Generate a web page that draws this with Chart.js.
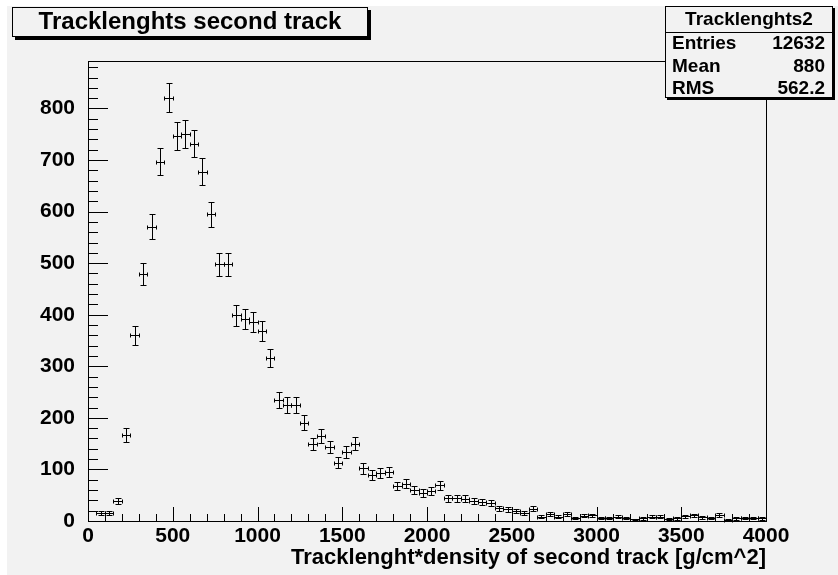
<!DOCTYPE html>
<html>
<head>
<meta charset="UTF-8">
<title>Tracklenghts second track</title>
<script src="https://cdn.jsdelivr.net/npm/chart.js"></script>
<style>
  html, body { margin: 0; padding: 0; background: #ffffff; }
  #wrap { width: 838px; height: 575px; position: relative; }
</style>
</head>
<body>
<div id="wrap"><canvas id="grafico"></canvas></div>
<script>
// histogram Tracklenghts2: 80 bins of 50 between 0 and 4000
const binLow = 0;
const binWidth = 50;
const counts = [
  0, 15, 15, 39, 167, 360, 479, 571, 697, 821,
  747, 751, 732, 677, 595, 498, 498, 399, 392, 386,
  368, 316, 235, 225, 225, 191, 149, 165, 144, 113,
  133, 150, 102, 89, 93, 95, 68, 72, 60, 54,
  58, 69, 44, 44, 43, 39, 37, 35, 25, 23,
  19, 15, 24, 8, 13, 8, 14, 6, 10, 11,
  6, 6, 8, 6, 3, 5, 8, 8, 4, 5,
  9, 11, 7, 6, 12, 2, 5, 6, 6, 5
];
const xTicks = [0, 500, 1000, 1500, 2000, 2500, 3000, 3500, 4000];
const yTicks = [0, 100, 200, 300, 400, 500, 600, 700, 800];

const titulo = 'Tracklenghts second track';
const tituloX = 'Tracklenght*density of second track [g/cm^2]';
const statsNome = 'Tracklenghts2';
const statsLinhas = [['Entries', '12632'], ['Mean', '880'], ['RMS', '562.2']];

const pontos = counts.map(function (c, i) {
  return { x: binLow + binWidth * (i + 0.5), y: c };
});

const fonte = '"Liberation Sans", Arial, sans-serif';
const cinza = '#f2f2f2';

// desenha barras de erro, marcas dos eixos, moldura e caixas de texto
const rootPlugin = {
  id: 'rootPlugin',
  beforeDraw(chart) {
    const ctx = chart.ctx;
    ctx.save();
    ctx.fillStyle = '#ffffff';
    ctx.fillRect(0, 0, chart.width, chart.height);
    ctx.fillStyle = cinza;
    ctx.fillRect(7, 6, chart.width - 7, chart.height - 6);
    ctx.restore();
  },
  afterDatasetsDraw(chart) {
    const ctx = chart.ctx;
    const xs = chart.scales.x;
    const ys = chart.scales.y;
    const a = chart.chartArea;
    ctx.save();
    ctx.strokeStyle = '#000';
    ctx.lineWidth = 1;

    // barras de erro
    pontos.forEach(function (p) {
      if (p.y <= 0) return;
      const e = Math.sqrt(p.y);
      const px = Math.round(xs.getPixelForValue(p.x)) + 0.5;
      const py = Math.round(ys.getPixelForValue(p.y)) + 0.5;
      const x1 = Math.round(xs.getPixelForValue(p.x - binWidth / 2)) + 0.5;
      const x2 = Math.round(xs.getPixelForValue(p.x + binWidth / 2)) + 0.5;
      const y1 = Math.round(ys.getPixelForValue(p.y + e)) + 0.5;
      const y2 = Math.round(Math.min(ys.getPixelForValue(p.y - e), a.bottom)) + 0.5;
      ctx.beginPath();
      ctx.moveTo(x1, py); ctx.lineTo(x2, py);
      ctx.moveTo(px, y1); ctx.lineTo(px, y2);
      ctx.moveTo(px - 3, y1); ctx.lineTo(px + 3, y1);
      ctx.moveTo(px - 3, y2); ctx.lineTo(px + 3, y2);
      ctx.moveTo(x1, py - 2); ctx.lineTo(x1, py + 2);
      ctx.moveTo(x2, py - 2); ctx.lineTo(x2, py + 2);
      ctx.stroke();
    });

    // moldura
    ctx.strokeRect(Math.round(a.left) + 0.5, Math.round(a.top) + 0.5,
      Math.round(a.right - a.left), Math.round(a.bottom - a.top));

    // marcas do eixo y (maiores a cada 100, menores a cada 20)
    ctx.beginPath();
    for (let v = 0; v <= ys.max; v += 20) {
      const y = Math.round(ys.getPixelForValue(v)) + 0.5;
      const len = (v % 100 === 0) ? 20 : 10;
      ctx.moveTo(a.left, y); ctx.lineTo(a.left + len, y);
    }
    // marcas do eixo x (maiores a cada 500, menores a cada 100)
    for (let v = 0; v <= xs.max; v += 100) {
      const x = Math.round(xs.getPixelForValue(v)) + 0.5;
      const len = (v % 500 === 0) ? 14 : 7;
      ctx.moveTo(x, a.bottom); ctx.lineTo(x, a.bottom - len);
    }
    ctx.stroke();

    // caixa do titulo com sombra
    ctx.fillStyle = '#000';
    ctx.fillRect(15, 10, 356, 30);
    ctx.fillStyle = cinza;
    ctx.fillRect(12, 7, 356, 30);
    ctx.strokeRect(12.5, 7.5, 355, 29);
    ctx.fillStyle = '#000';
    ctx.font = 'bold 24px ' + fonte;
    ctx.textAlign = 'center';
    ctx.textBaseline = 'alphabetic';
    ctx.fillText(titulo, 190, 29);

    // caixa de estatisticas
    const bx = 665, by = 6, bw = 168, bh = 92;
    ctx.fillStyle = '#000';
    ctx.fillRect(bx + 2, by + 2, bw, bh);
    ctx.fillStyle = cinza;
    ctx.fillRect(bx, by, bw, bh);
    ctx.strokeRect(bx + 0.5, by + 0.5, bw - 1, bh - 1);
    ctx.beginPath();
    ctx.moveTo(bx, 32.5); ctx.lineTo(bx + bw, 32.5);
    ctx.stroke();
    ctx.fillStyle = '#000';
    ctx.font = 'bold 19px ' + fonte;
    ctx.textAlign = 'center';
    ctx.fillText(statsNome, bx + bw / 2, 25);
    statsLinhas.forEach(function (l, i) {
      const y = 49 + i * 22.5;
      ctx.textAlign = 'left';
      ctx.fillText(l[0], bx + 7, y);
      ctx.textAlign = 'right';
      ctx.fillText(l[1], bx + bw - 8, y);
    });
    ctx.restore();
  }
};

const config = {
  type: 'scatter',
  data: {
    datasets: [{
      data: pontos,
      pointRadius: 0,
      showLine: false
    }]
  },
  options: {
    responsive: false,
    animation: false,
    layout: { padding: { left: 0, top: 61, right: 72, bottom: 4 } },
    plugins: {
      legend: { display: false },
      tooltip: { enabled: false }
    },
    scales: {
      x: {
        type: 'linear',
        min: 0,
        max: 4000,
        grid: { display: false },
        border: { color: '#000', width: 1 },
        afterBuildTicks: function (scale) {
          scale.ticks = xTicks.map(function (v) { return { value: v }; });
        },
        afterFit: function (scale) { scale.height = 50; },
        ticks: {
          color: '#000',
          font: { family: fonte, size: 21, weight: 'bold' },
          padding: -5,
          maxRotation: 0,
          autoSkip: false,
          callback: function (v) { return String(v); }
        },
        title: {
          display: true,
          text: tituloX,
          align: 'end',
          color: '#000',
          font: { family: fonte, size: 22, weight: 'bold' },
          padding: { top: 0, bottom: 0 }
        }
      },
      y: {
        type: 'linear',
        min: 0,
        max: 892,
        grid: { display: false },
        border: { color: '#000', width: 1 },
        afterBuildTicks: function (scale) {
          scale.ticks = yTicks.map(function (v) { return { value: v }; });
        },
        afterFit: function (scale) { scale.width = 88; },
        ticks: {
          color: '#000',
          font: { family: fonte, size: 21, weight: 'bold' },
          padding: 5,
          autoSkip: false,
          callback: function (v) { return String(v); }
        }
      }
    }
  },
  plugins: [rootPlugin]
};

const canvas = document.getElementById('grafico');
canvas.width = 838;
canvas.height = 575;
new Chart(canvas, config);
</script>
</body>
</html>
